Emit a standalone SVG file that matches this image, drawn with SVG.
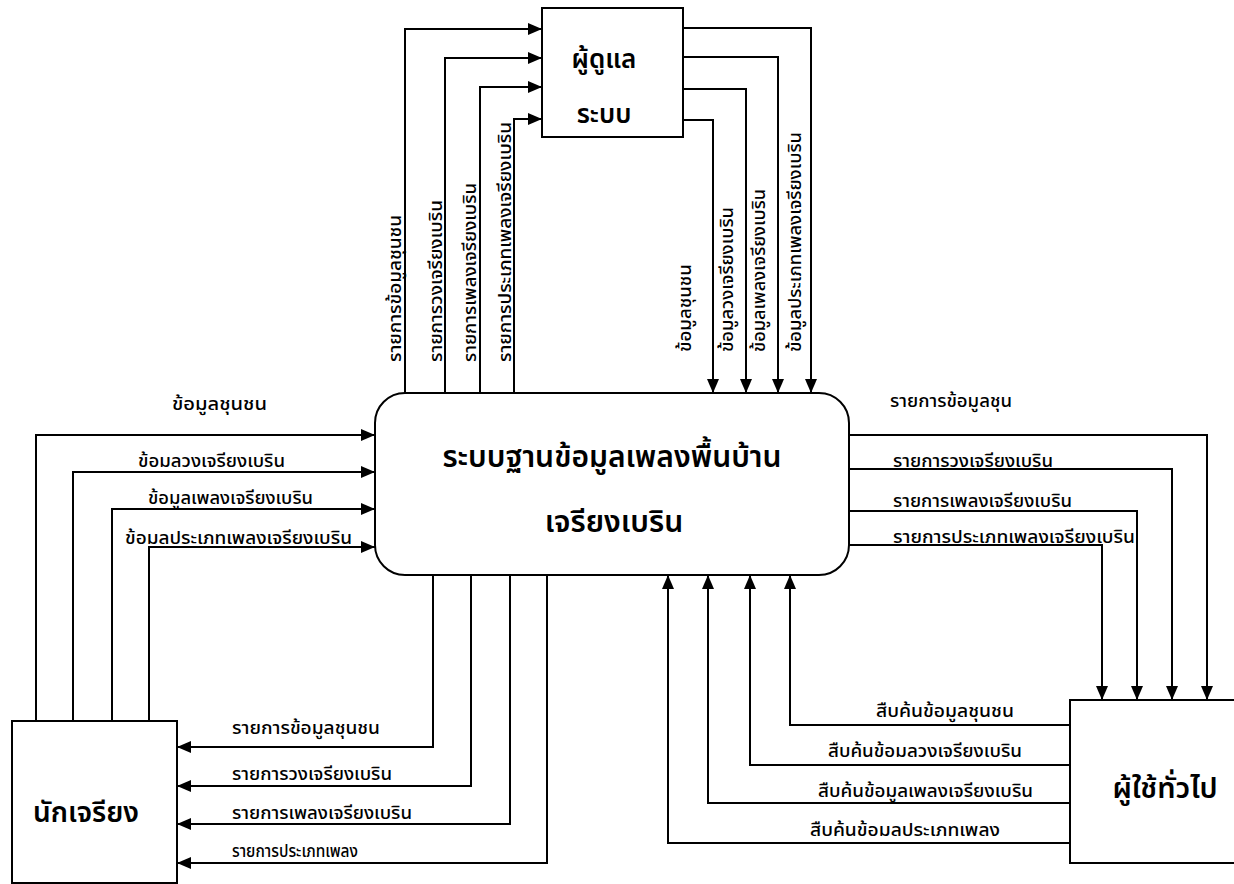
<svg xmlns="http://www.w3.org/2000/svg" width="1234" height="884" viewBox="0 0 1234 884">
<style>
.box{fill:#fff;stroke:#000;stroke-width:2}
.c{fill:none;stroke:#000;stroke-width:2;marker-end:url(#ah)}
.lb{font-family:"Noto Sans Thai","Noto Sans","DejaVu Sans",sans-serif;font-size:17px;font-weight:500;fill:#000}
.nt{font-family:"Noto Sans Thai","Noto Sans","DejaVu Sans",sans-serif;font-weight:600;fill:#000;text-anchor:middle}
</style>
<defs>
<marker id="ah" viewBox="0 0 14 12" refX="14" refY="6" markerWidth="14" markerHeight="12" markerUnits="userSpaceOnUse" orient="auto">
<path d="M0,0 L14,6 L0,12 Z" fill="#000"/>
</marker>
</defs>
<rect width="1234" height="884" fill="#fff"/>
<g id="connectors">
<path class="c" d="M36,721 V435 H375"/>
<path class="c" d="M73,721 V472 H375"/>
<path class="c" d="M112,721 V509 H375"/>
<path class="c" d="M149,721 V547 H375"/>
<path class="c" d="M405,393 V29 H542"/>
<path class="c" d="M445,393 V58 H542"/>
<path class="c" d="M480,393 V87 H542"/>
<path class="c" d="M514,393 V119 H542"/>
<path class="c" d="M683,28 H811 V393"/>
<path class="c" d="M683,57 H778 V393"/>
<path class="c" d="M683,89 H746 V393"/>
<path class="c" d="M683,120 H713 V393"/>
<path class="c" d="M849,435 H1207 V700"/>
<path class="c" d="M849,469 H1172 V700"/>
<path class="c" d="M849,511 H1137 V700"/>
<path class="c" d="M849,545 H1102 V700"/>
<path class="c" d="M433,575 V747 H177"/>
<path class="c" d="M471,575 V786 H177"/>
<path class="c" d="M510,575 V824 H177"/>
<path class="c" d="M547,575 V863 H177"/>
<path class="c" d="M1070,725 H790 V575"/>
<path class="c" d="M1070,765 H750 V575"/>
<path class="c" d="M1070,803 H708 V575"/>
<path class="c" d="M1070,843 H668 V575"/>
</g>
<g id="labels">
<text class="lb" x="172" y="410" textLength="95" lengthAdjust="spacingAndGlyphs">ข้อมูลชุนชน</text>
<text class="lb" x="138" y="467" textLength="147" lengthAdjust="spacingAndGlyphs">ข้อมลวงเจรียงเบริน</text>
<text class="lb" x="148" y="504" textLength="165" lengthAdjust="spacingAndGlyphs">ข้อมูลเพลงเจรียงเบริน</text>
<text class="lb" x="125" y="544" textLength="227" lengthAdjust="spacingAndGlyphs">ข้อมลประเภทเพลงเจรียงเบริน</text>
<text class="lb" x="890" y="407" textLength="122" lengthAdjust="spacingAndGlyphs">รายการข้อมูลชุน</text>
<text class="lb" x="893" y="467" textLength="160" lengthAdjust="spacingAndGlyphs">รายการวงเจรียงเบริน</text>
<text class="lb" x="893" y="507" textLength="179" lengthAdjust="spacingAndGlyphs">รายการเพลงเจรียงเบริน</text>
<text class="lb" x="893" y="543" textLength="242" lengthAdjust="spacingAndGlyphs">รายการประเภทเพลงเจรียงเบริน</text>
<text class="lb" x="232" y="734" textLength="148" lengthAdjust="spacingAndGlyphs">รายการข้อมูลชุนชน</text>
<text class="lb" x="232" y="780" textLength="160" lengthAdjust="spacingAndGlyphs">รายการวงเจรียงเบริน</text>
<text class="lb" x="232" y="819" textLength="180" lengthAdjust="spacingAndGlyphs">รายการเพลงเจรียงเบริน</text>
<text class="lb" x="232" y="857" textLength="126" lengthAdjust="spacingAndGlyphs">รายการประเภทเพลง</text>
<text class="lb" x="876" y="717" textLength="138" lengthAdjust="spacingAndGlyphs">สืบค้นข้อมูลชุนชน</text>
<text class="lb" x="828" y="757" textLength="194" lengthAdjust="spacingAndGlyphs">สืบค้นข้อมลวงเจรียงเบริน</text>
<text class="lb" x="818" y="797" textLength="215" lengthAdjust="spacingAndGlyphs">สืบค้นข้อมูลเพลงเจรียงเบริน</text>
<text class="lb" x="810" y="836" textLength="190" lengthAdjust="spacingAndGlyphs">สืบค้นข้อมลประเภทเพลง</text>
<text class="lb" transform="translate(401,362) rotate(-90)" textLength="147" lengthAdjust="spacingAndGlyphs">รายการข้อมูลชุนชน</text>
<text class="lb" transform="translate(442,362) rotate(-90)" textLength="162" lengthAdjust="spacingAndGlyphs">รายการวงเจรียงเบริน</text>
<text class="lb" transform="translate(476,362) rotate(-90)" textLength="179" lengthAdjust="spacingAndGlyphs">รายการเพลงเจรียงเบริน</text>
<text class="lb" transform="translate(511,362) rotate(-90)" textLength="240" lengthAdjust="spacingAndGlyphs">รายการประเภทเพลงเจรียงเบริน</text>
<text class="lb" transform="translate(691,352) rotate(-90)" textLength="88" lengthAdjust="spacingAndGlyphs">ข้อมูลชุนชน</text>
<text class="lb" transform="translate(733,352) rotate(-90)" textLength="145" lengthAdjust="spacingAndGlyphs">ข้อมูลวงเจรียงเบริน</text>
<text class="lb" transform="translate(765,352) rotate(-90)" textLength="163" lengthAdjust="spacingAndGlyphs">ข้อมูลเพลงเจรียงเบริน</text>
<text class="lb" transform="translate(801,352) rotate(-90)" textLength="220" lengthAdjust="spacingAndGlyphs">ข้อมูลประเภทเพลงเจรียงเบริน</text>
</g>
<g id="admin">
<rect class="box" x="542" y="8" width="141" height="129"/>
<text class="nt" x="604" y="68" font-size="26">ผู้ดูแล</text>
<text class="nt" x="604" y="123" font-size="26">ระบบ</text>
</g>
<g id="system">
<rect class="box" x="375" y="393" width="474" height="182" rx="30" ry="30"/>
<text class="nt" x="612" y="467" font-size="30">ระบบฐานข้อมูลเพลงพื้นบ้าน</text>
<text class="nt" x="614" y="532" font-size="30">เจรียงเบริน</text>
</g>
<g id="singer">
<rect class="box" x="12" y="721" width="165" height="162"/>
<text class="nt" x="86" y="822" font-size="28">นักเจรียง</text>
</g>
<g id="user">
<rect class="box" x="1070" y="700" width="170" height="163"/>
<text class="nt" x="1165" y="798" font-size="29" font-weight="500">ผู้ใช้ทั่วไป</text>
</g>
</svg>
